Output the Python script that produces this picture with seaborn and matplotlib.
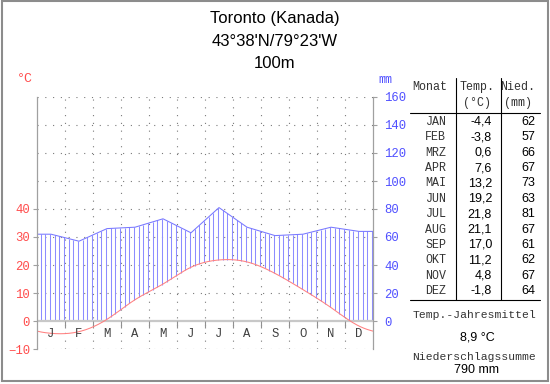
import numpy as np
import matplotlib
matplotlib.use("Agg")
import matplotlib.pyplot as plt
import seaborn as sns
from matplotlib.lines import Line2D
from matplotlib.patches import Rectangle

# Klimadiagramm Toronto
station = "Toronto (Kanada)"
coords = "43°38'N/79°23'W"
elevation = "100m"
month_letters = ["J", "F", "M", "A", "M", "J", "J", "A", "S", "O", "N", "D"]
month_names = ["JAN", "FEB", "MRZ", "APR", "MAI", "JUN",
               "JUL", "AUG", "SEP", "OKT", "NOV", "DEZ"]
temp = [-4.4, -3.8, 0.6, 7.6, 13.2, 19.2, 21.8, 21.1, 17.0, 11.2, 4.8, -1.8]
precip = [62, 57, 66, 67, 73, 63, 81, 67, 61, 62, 67, 64]
temp_mean = "8,9 °C"
precip_sum = "790 mm"

RED = "#ff4c4c"
BLUE = "#5050ff"
GRID = "#7a7a7a"
W, H = 550, 384


def periodic_spline(y, t):
    # smooth closed curve through the monthly values (knots at month centres)
    y = np.asarray(y, float)
    n = len(y)
    A = np.zeros((n, n))
    for i in range(n):
        A[i, i] = 4
        A[i, (i - 1) % n] = 1
        A[i, (i + 1) % n] = 1
    rhs = 6 * (np.roll(y, -1) - 2 * y + np.roll(y, 1))
    M = np.linalg.solve(A, rhs)
    s = (np.asarray(t) - 0.5) % n
    i = np.floor(s).astype(int) % n
    u = s - np.floor(s)
    j = (i + 1) % n
    return ((1 - u) * y[i] + u * y[j]
            + ((1 - u) ** 3 - (1 - u)) * M[i] / 6 + (u ** 3 - u) * M[j] / 6)


def fx(x):
    return x / W


def fy(y):
    return 1 - y / H


sns.set_style("white")
plt.rcParams["font.family"] = ["Liberation Mono", "DejaVu Sans Mono"]

fig = plt.figure(figsize=(5.5, 3.84), dpi=100)
ax = fig.add_axes([fx(37), fy(349), 336 / W, 252 / H])
ax.set_xlim(0, 12)
ax.set_ylim(-10, 80)

# grid
for v in range(-10, 81, 10):
    if v != 0:
        ax.hlines(v, 0, 12, colors=GRID, lw=0.8, linestyles=(0, (1, 6)))
ax.vlines(np.arange(1, 12), -10, 80, colors=GRID, lw=0.8, linestyles=(0, (1, 6)))

# precipitation line (mm / 2 on the temperature scale)
mid = np.arange(12) + 0.5
px = np.concatenate([[0], mid, [12]])
py = np.concatenate([[precip[0]], precip, [precip[-1]]]) / 2

# hatching for humid months
hx = (np.arange(72) + 0.8) / 6
top = np.interp(hx, px, py)
bottom = np.maximum(periodic_spline(temp, hx), 0)
wet = top > bottom
ax.vlines(hx[wet], bottom[wet], top[wet], colors="#8c8cff", lw=0.75)

ax.axhline(0, color="#c8c8c8", lw=1.6)
ax.vlines(np.arange(1, 12), -2.5, 0, colors="#909090", lw=0.8)

sns.lineplot(x=px, y=py, ax=ax, color="#7878ff", lw=0.75)
tx = np.linspace(0, 12, 400)
sns.lineplot(x=tx, y=periodic_spline(temp, tx), ax=ax, color="#ff8080", lw=0.75)

for k, m in enumerate(month_letters):
    ax.text(k + 0.5, -4.6, m, ha="center", va="center", fontsize=8.8, color="#404040")

for s in ["top", "bottom"]:
    ax.spines[s].set_visible(False)
for s in ["left", "right"]:
    ax.spines[s].set_color("#a0a0a0")
    ax.spines[s].set_linewidth(0.9)
ax.set_xticks([])
ax.set_yticks(range(-10, 41, 10))
ax.tick_params(axis="y", left=True, length=3, color="#a0a0a0", pad=2,
               labelsize=8.8, labelcolor=RED)
ax.set_xlabel("")
ax.set_ylabel("")

ax2 = ax.twinx()
ax2.set_ylim(-20, 160)
ax2.set_yticks(range(0, 161, 20))
for s in ax2.spines.values():
    s.set_visible(False)
ax2.tick_params(axis="y", right=True, length=3, color="#a0a0a0", pad=5,
                labelsize=8.8, labelcolor=BLUE)

fig.text(fx(25), fy(79), "°C", ha="center", va="center", fontsize=9.5, color=RED)
fig.text(fx(385), fy(80), "mm", ha="center", va="center", fontsize=8.5, color=BLUE)

# title
sans = "Liberation Sans"
for txt, y in [(station, 19), (coords, 42), (elevation, 64)]:
    fig.text(fx(275), fy(y), txt, ha="center", va="center", fontsize=12,
             family=sans, color="black")

# table
TXT = "#333333"
fig.text(fx(430), fy(87), "Monat", ha="center", va="center", fontsize=8.4, color=TXT)
fig.text(fx(477), fy(87), "Temp.", ha="center", va="center", fontsize=8.4, color=TXT)
fig.text(fx(477), fy(103), "(°C)", ha="center", va="center", fontsize=8.4, color=TXT)
fig.text(fx(518), fy(87), "Nied.", ha="center", va="center", fontsize=8.4, color=TXT)
fig.text(fx(518), fy(103), "(mm)", ha="center", va="center", fontsize=8.4, color=TXT)

for x in [456, 501]:
    fig.add_artist(Line2D([fx(x), fx(x)], [fy(78), fy(300)], color="black", lw=0.8))
for y in [113, 300]:
    fig.add_artist(Line2D([fx(410), fx(540)], [fy(y), fy(y)], color="black", lw=0.8))

for i in range(12):
    y = 122 + 15.36 * i
    fig.text(fx(446), fy(y), month_names[i], ha="right", va="center",
             fontsize=8.4, color=TXT)
    fig.text(fx(492), fy(y), f"{temp[i]:.1f}".replace(".", ","), ha="right",
             va="center", fontsize=9, family=sans, color="black")
    fig.text(fx(535), fy(y), str(precip[i]), ha="right", va="center",
             fontsize=9, family=sans, color="black")

fig.text(fx(474), fy(315), "Temp.-Jahresmittel", ha="center", va="center",
         fontsize=8.2, color=TXT)
fig.text(fx(477), fy(337), temp_mean, ha="center", va="center", fontsize=9,
         family=sans, color="black")
fig.text(fx(474), fy(357), "Niederschlagssumme", ha="center", va="center",
         fontsize=8.2, color=TXT)
fig.text(fx(477), fy(370), precip_sum, ha="center", va="center", fontsize=9,
         family=sans, color="black")

# image frame
fig.add_artist(Rectangle((fx(2), fy(381)), fx(545.5), 380 / H, transform=fig.transFigure,
                         fill=False, edgecolor="#8c8c8c", lw=1.5))

fig.savefig("out.png", dpi=100)
